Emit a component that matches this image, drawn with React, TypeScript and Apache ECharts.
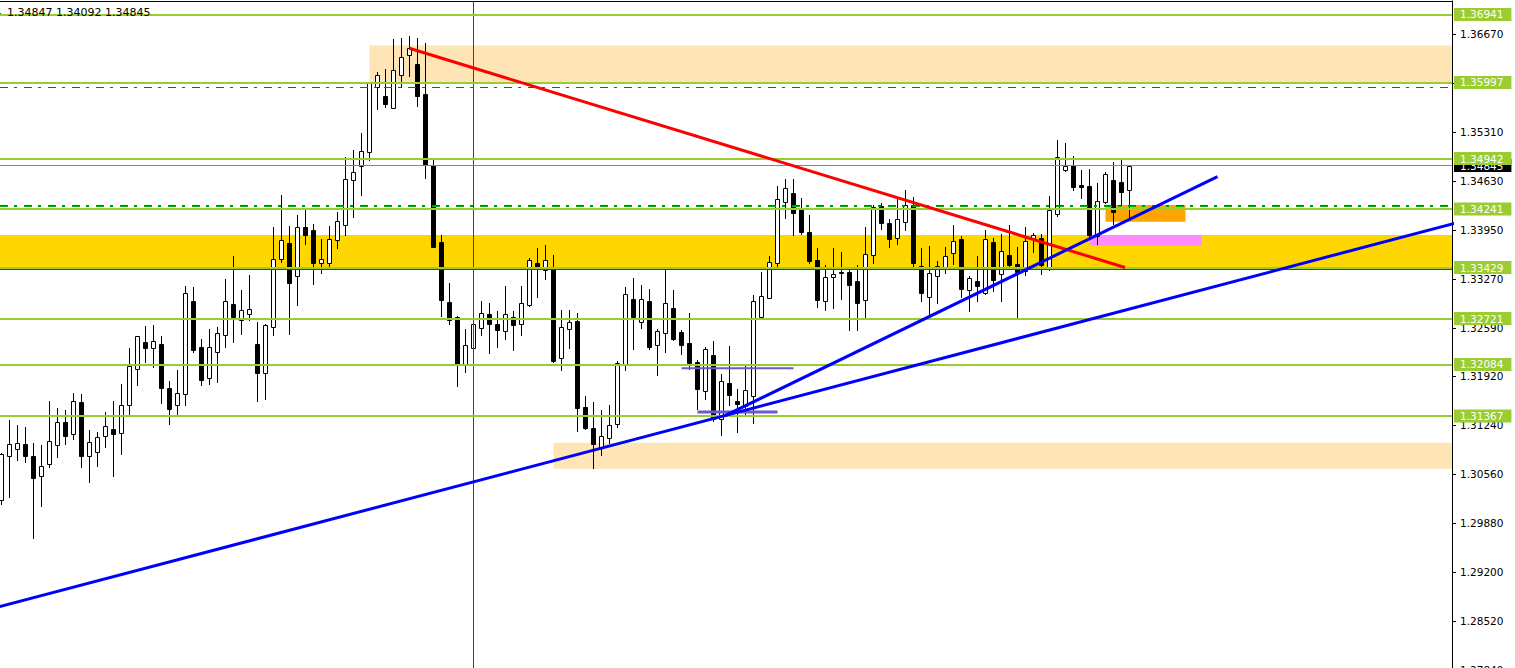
import React, { useEffect, useRef } from "react";
import * as echarts from "echarts";

// ---- candle data (bar index = position in arrays) ----
const opens = [
  1.30203, 1.30818, 1.30907, 1.3098, 1.30814, 1.30532, 1.30698, 1.30962, 1.31281, 1.31115,
  1.31559, 1.30818, 1.30865, 1.31087, 1.31188, 1.31129, 1.31526, 1.32017, 1.32396, 1.32308,
  1.32368, 1.31757, 1.31517, 1.3167, 1.32965, 1.32322, 1.31892, 1.32253, 1.32489, 1.32919,
  1.32697, 1.3278, 1.32364, 1.31961, 1.326, 1.33543, 1.33765, 1.33307, 1.33987, 1.33946,
  1.33488, 1.33488, 1.33807, 1.34024, 1.34648, 1.34834, 1.35037, 1.35939, 1.35805, 1.35647,
  1.36097, 1.36374, 1.3625, 1.35833, 1.34848, 1.33779, 1.32947, 1.32738, 1.32086, 1.32308,
  1.32586, 1.3278, 1.32641, 1.32544, 1.32738, 1.32641, 1.32905, 1.33492, 1.33391, 1.33432,
  1.32169, 1.32572, 1.32683, 1.31489, 1.31198, 1.30918, 1.31068, 1.31254, 1.32086, 1.32988,
  1.32669, 1.3296, 1.3235, 1.32516, 1.32863, 1.3253, 1.32378, 1.32114, 1.31711, 1.32211,
  1.31323, 1.31823, 1.31573, 1.31512, 1.3165, 1.32738, 1.33013, 1.33496, 1.34334, 1.34459,
  1.34237, 1.33918, 1.33529, 1.3296, 1.33294, 1.33367, 1.33363, 1.33238, 1.32974, 1.33599,
  1.34279, 1.34043, 1.33835, 1.34057, 1.34293, 1.33446, 1.33016, 1.33307, 1.33405, 1.33627,
  1.33821, 1.33113, 1.33238, 1.33072, 1.33779, 1.33335, 1.33599, 1.33474, 1.33377, 1.33821,
  1.33835, 1.33405, 1.34168, 1.34779, 1.34848, 1.3457, 1.34556, 1.33863, 1.34334, 1.3464,
  1.34612, 1.34501,
];
const highs = [
  1.30859, 1.31313, 1.31244, 1.3122, 1.3099, 1.30966, 1.31577, 1.3148, 1.31452, 1.31684,
  1.31674, 1.31174, 1.31142, 1.3142, 1.31577, 1.31813, 1.32308, 1.32479, 1.32618, 1.32632,
  1.32479, 1.31854, 1.32007, 1.33173, 1.33159, 1.32433, 1.32576, 1.32604, 1.3327, 1.33589,
  1.33117, 1.33321, 1.32669, 1.32641, 1.33987, 1.34436, 1.34001, 1.34154, 1.34223, 1.34029,
  1.33821, 1.34001, 1.34196, 1.34963, 1.35056, 1.35292, 1.3601, 1.36139, 1.3618, 1.36597,
  1.3661, 1.36638, 1.3661, 1.36541, 1.34945, 1.33876, 1.3321, 1.32761, 1.32572, 1.32761,
  1.3296, 1.32933, 1.32822, 1.33173, 1.32826, 1.33173, 1.33557, 1.337, 1.33742, 1.33599,
  1.3284, 1.3284, 1.32794, 1.31646, 1.31559, 1.31448, 1.31517, 1.32128, 1.33159, 1.3328,
  1.33183, 1.33127, 1.32572, 1.33391, 1.33113, 1.32562, 1.32794, 1.32142, 1.32322, 1.32405,
  1.31947, 1.32336, 1.31739, 1.32058, 1.33044, 1.33367, 1.33586, 1.34561, 1.34654, 1.34654,
  1.3439, 1.34154, 1.33696, 1.3346, 1.33696, 1.33641, 1.33432, 1.3346, 1.33987, 1.34301,
  1.34321, 1.34099, 1.3439, 1.34501, 1.34404, 1.33696, 1.33724, 1.33516, 1.3371, 1.34015,
  1.33863, 1.33307, 1.33585, 1.33946, 1.33835, 1.3389, 1.34015, 1.3371, 1.33987, 1.33904,
  1.3389, 1.34418, 1.35195, 1.35153, 1.34973, 1.34779, 1.34792, 1.34598, 1.34751, 1.3489,
  1.34931, 1.34847,
];
const lows = [
  1.30143, 1.30249, 1.30758, 1.30734, 1.29671, 1.30124, 1.30665, 1.30804, 1.3098, 1.3105,
  1.30665, 1.30457, 1.30679, 1.30943, 1.3054, 1.30845, 1.31373, 1.31803, 1.32122, 1.32053,
  1.31545, 1.31254, 1.31387, 1.31521, 1.32261, 1.31803, 1.31817, 1.31845, 1.3233, 1.324,
  1.32511, 1.32705, 1.31581, 1.31609, 1.32497, 1.3351, 1.32511, 1.32913, 1.3376, 1.33205,
  1.33357, 1.33455, 1.33704, 1.33885, 1.34135, 1.3444, 1.34917, 1.35633, 1.35661, 1.3564,
  1.3593, 1.36083, 1.35675, 1.34676, 1.33715, 1.32761, 1.3265, 1.31781, 1.31983, 1.31799,
  1.32497, 1.32236, 1.3233, 1.32441, 1.32289, 1.32497, 1.32891, 1.33024, 1.33274, 1.32122,
  1.32011, 1.32308, 1.31165, 1.31192, 1.30651, 1.30832, 1.30998, 1.3122, 1.32011, 1.32303,
  1.32594, 1.32303, 1.31942, 1.32261, 1.32428, 1.32233, 1.32025, 1.3147, 1.31609, 1.31303,
  1.31101, 1.31521, 1.31151, 1.31373, 1.31276, 1.32725, 1.33002, 1.33455, 1.34121, 1.33885,
  1.33899, 1.33496, 1.32886, 1.32844, 1.32872, 1.32997, 1.32562, 1.32562, 1.32733, 1.33496,
  1.3396, 1.3371, 1.33752, 1.33946, 1.33405, 1.3296, 1.32733, 1.32941, 1.33349, 1.33474,
  1.33024, 1.32822, 1.3296, 1.3306, 1.33108, 1.3296, 1.33441, 1.32719, 1.3333, 1.33641,
  1.33335, 1.33395, 1.3414, 1.3477, 1.34501, 1.3439, 1.33821, 1.33752, 1.34329, 1.34029,
  1.34293, 1.34092,
];
const closes = [
  1.30841, 1.3098, 1.3099, 1.30818, 1.30512, 1.30671, 1.31018, 1.31281, 1.31095, 1.31573,
  1.30818, 1.31004, 1.31073, 1.31226, 1.31123, 1.31517, 1.32058, 1.32475, 1.32317, 1.3241,
  1.31753, 1.31462, 1.31684, 1.33072, 1.32285, 1.31864, 1.32322, 1.32516, 1.3296, 1.32738,
  1.32836, 1.32849, 1.31961, 1.32627, 1.33543, 1.33807, 1.3321, 1.33987, 1.33876, 1.33488,
  1.33543, 1.33821, 1.34071, 1.34654, 1.34751, 1.35042, 1.36, 1.36097, 1.35703, 1.36166,
  1.36347, 1.36472, 1.35805, 1.34856, 1.33718, 1.32983, 1.32705, 1.32081, 1.3235, 1.32641,
  1.32794, 1.32639, 1.32558, 1.3278, 1.32636, 1.32933, 1.33529, 1.33432, 1.33529, 1.32136,
  1.326, 1.32669, 1.31484, 1.31206, 1.30984, 1.31084, 1.3124, 1.321, 1.33058, 1.32747,
  1.32988, 1.3233, 1.32544, 1.32933, 1.32441, 1.3235, 1.321, 1.31739, 1.32294, 1.31323,
  1.3185, 1.31664, 1.31539, 1.31725, 1.3296, 1.3303, 1.33502, 1.34376, 1.34529, 1.34182,
  1.33926, 1.33524, 1.32983, 1.33294, 1.33335, 1.33357, 1.33191, 1.32941, 1.33613, 1.34265,
  1.34043, 1.33829, 1.34099, 1.34293, 1.33488, 1.33072, 1.33349, 1.33446, 1.33585, 1.33793,
  1.33127, 1.3328, 1.33177, 1.33821, 1.33252, 1.33654, 1.33468, 1.33363, 1.33793, 1.33876,
  1.3346, 1.34223, 1.34959, 1.34834, 1.34543, 1.34551, 1.33876, 1.34348, 1.34723, 1.34196,
  1.34473, 1.34845,
];

// ---- price axis ----
const yTicks = [1.3667, 1.3599, 1.3531, 1.3463, 1.3395, 1.3327, 1.3259, 1.3192, 1.3124, 1.3056, 1.2988, 1.292, 1.2852, 1.2784];
const priceMax = 1.37128;
const priceMin = 1.27427;
const barMin = -0.1875;
const barMax = 181.3125;

// ---- horizontal levels ----
const levelPrices = [1.36941, 1.35997, 1.34942, 1.34241, 1.33429, 1.32721, 1.32084, 1.31367];
const purpleLevel = 1.33409;
const bidPrice = 1.34845;
const redDashPrices = [1.35937, 1.34297];
const greenDashPrices = [1.34283];
const cursorBar = 59;

// ---- zones: [fromBar, toBar, low, high] ----
const supplyZone = [46, 183, 1.35997, 1.3651];
const goldZone = [-2, 183, 1.3343, 1.33881];
const demandZone = [69, 183, 1.30637, 1.30998];
const orangeBox = [138, 148, 1.34065, 1.34297];
const pinkBox = [136, 150, 1.33732, 1.33881];

// ---- trend lines: [bar, price] ----
const longTrend = [[-1, 1.287], [182, 1.34053]];
const shortTrend = [[90.44, 1.31373], [152, 1.3469]];
const redTrend = [[50.97, 1.36472], [140.44, 1.3343]];
const rangeHigh = [[85, 1.32031], [99, 1.32031]];
const rangeLow = [[87, 1.31424], [97, 1.31424]];

const headerCut = "H4";
const headerText = "1.34847 1.34092 1.34845";

const FONT = "DejaVu Sans";

export default function App() {
  const ref = useRef<HTMLDivElement>(null);

  useEffect(() => {
    if (!ref.current) return;
    const chart = echarts.init(ref.current, undefined, { renderer: "svg" });

    const candleData = opens.map((o, i) => [i, o, highs[i], lows[i], closes[i]]);
    const zones = [supplyZone, goldZone, demandZone, orangeBox, pinkBox];
    const zoneColors = ["#FFE4B5", "#FFD700", "#FFE4B5", "#FFA500", "#FF8CFF"];

    const fmt = (p: any) => Number(p.value).toFixed(5);

    const trend = (data: number[][], color: string, width: number, z: number) => ({
      type: "line",
      data,
      symbol: "none",
      silent: true,
      clip: true,
      z,
      lineStyle: { color, width },
    });

    const option: any = {
      animation: false,
      backgroundColor: "#ffffff",
      textStyle: { fontFamily: FONT },
      grid: { left: 0, right: 63, top: 1, bottom: 0, containLabel: false },
      xAxis: {
        type: "value",
        position: "top",
        min: barMin,
        max: barMax,
        axisLine: { show: true, onZero: false, lineStyle: { color: "#000", width: 1 } },
        axisTick: { show: false },
        axisLabel: { show: false },
        splitLine: { show: false },
      },
      yAxis: {
        type: "value",
        position: "right",
        min: priceMin,
        max: priceMax,
        axisLine: { show: true, onZero: false, lineStyle: { color: "#000", width: 1 } },
        axisTick: {
          show: true,
          inside: false,
          length: 4,
          customValues: yTicks,
          lineStyle: { color: "#000" },
        },
        axisLabel: {
          show: true,
          customValues: yTicks,
          formatter: (v: number) => v.toFixed(5),
          color: "#000",
          fontSize: 10.5,
          fontFamily: FONT,
          margin: 8,
        },
        splitLine: { show: false },
      },
      graphic: [
        {
          type: "text",
          x: -14,
          y: 12.5,
          z: 100,
          style: {
            text: headerCut,
            fill: "#000",
            fontSize: 11,
            fontFamily: FONT,
            verticalAlign: "middle",
          },
        },
        {
          type: "text",
          x: 7,
          y: 12.5,
          z: 100,
          style: {
            text: headerText,
            fill: "#000",
            fontSize: 11,
            fontFamily: FONT,
            verticalAlign: "middle",
          },
        },
      ],
      series: [
        {
          type: "custom",
          silent: true,
          z: 1,
          data: zones.map((zz, k) => [zz[0], zz[1], zz[2], zz[3], k]),
          encode: { x: [0, 1], y: [2, 3] },
          renderItem: (params: any, api: any) => {
            const a = api.coord([api.value(0), api.value(3)]);
            const b = api.coord([api.value(1), api.value(2)]);
            const cs = params.coordSys;
            const rect = echarts.graphic.clipRectByRect(
              { x: a[0], y: a[1], width: b[0] - a[0], height: b[1] - a[1] },
              { x: cs.x, y: cs.y, width: cs.width, height: cs.height }
            );
            if (!rect) return null;
            return {
              type: "rect",
              shape: rect,
              style: { fill: zoneColors[api.value(4)] },
            };
          },
        },
        {
          type: "custom",
          silent: true,
          z: 2,
          data: candleData,
          encode: { x: 0, y: [1, 2, 3, 4] },
          renderItem: (_params: any, api: any) => {
            const i = api.value(0);
            const o = api.value(1);
            const h = api.value(2);
            const l = api.value(3);
            const c = api.value(4);
            const po = api.coord([i, o]);
            const pc = api.coord([i, c]);
            const ph = api.coord([i, h]);
            const pl = api.coord([i, l]);
            const x = Math.round(po[0] - 0.5) + 0.5;
            const top = Math.round(Math.min(po[1], pc[1]));
            let bot = Math.round(Math.max(po[1], pc[1]));
            if (bot - top < 1) bot = top + 1;
            const up = c >= o;
            return {
              type: "group",
              children: [
                {
                  type: "line",
                  shape: { x1: x, y1: Math.round(ph[1]), x2: x, y2: Math.round(pl[1]) + 1 },
                  style: { stroke: "#000", lineWidth: 1 },
                },
                {
                  type: "rect",
                  shape: { x: x - 2, y: top + 0.5, width: 4, height: bot - top },
                  style: { fill: up ? "#fff" : "#000", stroke: "#000", lineWidth: 1 },
                },
              ],
            };
          },
        },
        // dashed lines, cursor line, purple level
        {
          type: "line",
          data: [],
          z: 3,
          silent: true,
          markLine: {
            silent: true,
            precision: 5,
            symbol: ["none", "none"],
            label: { show: false },
            emphasis: { disabled: true },
            data: [
              ...redDashPrices.map((v) => ({ yAxis: v, lineStyle: { color: "#FF0000", width: 1, type: [8, 6, 3, 7] } })),
              ...greenDashPrices.map((v) => ({ yAxis: v, lineStyle: { color: "#00B000", width: 1, type: [8, 6, 3, 7] } })),
              { xAxis: cursorBar, lineStyle: { color: "#E00000", width: 1, type: "solid" } },
              { yAxis: purpleLevel, lineStyle: { color: "#9400D3", width: 2, type: "solid" } },
            ],
          },
        },
        // bid line
        {
          type: "line",
          data: [],
          z: 4,
          silent: true,
          markLine: {
            silent: true,
            precision: 5,
            symbol: ["none", "none"],
            emphasis: { disabled: true },
            lineStyle: { color: "#778899", width: 1, type: "solid" },
            label: {
              show: true,
              position: "end",
              distance: 2,
              formatter: fmt,
              color: "#fff",
              backgroundColor: "#000",
              padding: [1, 8, 0, 6],
              fontSize: 10.5,
              lineHeight: 12,
              fontFamily: FONT,
            },
            data: [{ yAxis: bidPrice }],
          },
        },
        // level lines
        {
          type: "line",
          data: [],
          z: 5,
          silent: true,
          markLine: {
            silent: true,
            precision: 5,
            symbol: ["none", "none"],
            emphasis: { disabled: true },
            lineStyle: { color: "#9ACD32", width: 2, type: "solid" },
            label: {
              show: true,
              position: "end",
              distance: 2,
              formatter: fmt,
              color: "#fff",
              backgroundColor: "#9ACD32",
              padding: [1, 8, 0, 6],
              fontSize: 10.5,
              lineHeight: 12,
              fontFamily: FONT,
            },
            data: levelPrices.map((v) => ({ yAxis: v })),
          },
        },
        trend(rangeHigh, "#6A5ACD", 2, 6),
        trend(rangeLow, "#6A5ACD", 3, 6),
        trend(redTrend, "#FF0000", 3, 7),
        trend(longTrend, "#0000FF", 3, 8),
        trend(shortTrend, "#0000FF", 3, 8),
      ],
    };

    chart.setOption(option);
    return () => chart.dispose();
  }, []);

  return (
    <div style={{ position: "absolute", left: 0, top: 0, width: 1515, height: 668, overflow: "hidden", background: "#fff" }}>
      <div ref={ref} style={{ position: "absolute", left: 0, top: 0, width: 1515, height: 700 }} />
    </div>
  );
}
